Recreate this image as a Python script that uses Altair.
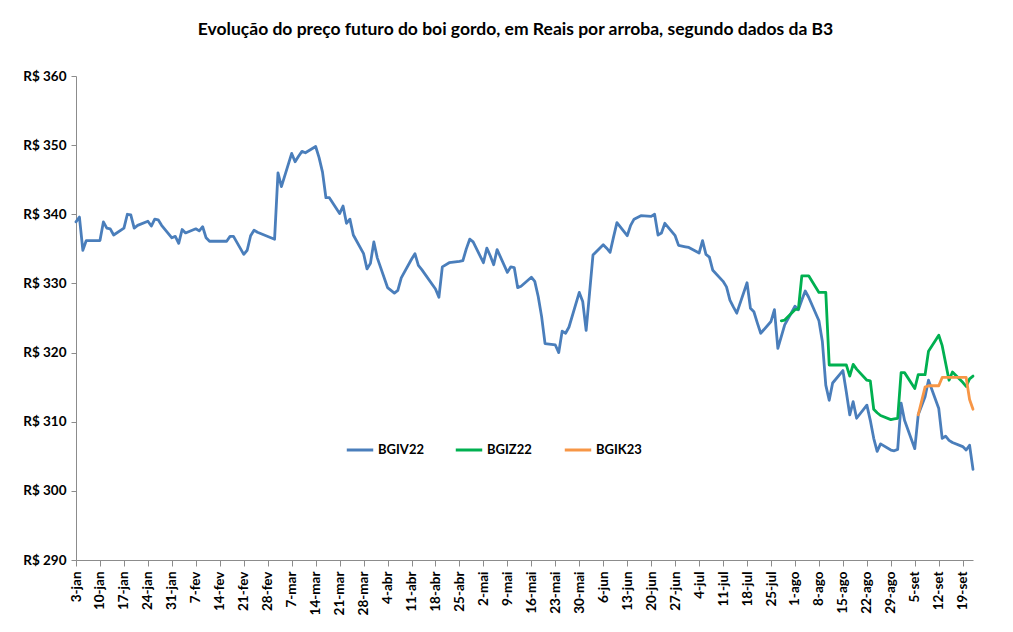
import altair as alt
import pandas as pd

TITLE = "Evolução do preço futuro do boi gordo, em Reais por arroba, segundo dados da B3"

series_names = ["BGIV22", "BGIZ22", "BGIK23"]
series_colors = ["#4A7EBB", "#00B050", "#F79646"]

bgiv22_dates = [
    "2022-01-03", "2022-01-04", "2022-01-05", "2022-01-06", "2022-01-07", "2022-01-10", "2022-01-11",
    "2022-01-12", "2022-01-13", "2022-01-14", "2022-01-17", "2022-01-18", "2022-01-19", "2022-01-20",
    "2022-01-21", "2022-01-24", "2022-01-25", "2022-01-26", "2022-01-27", "2022-01-28", "2022-01-31",
    "2022-02-01", "2022-02-02", "2022-02-03", "2022-02-04", "2022-02-07", "2022-02-08", "2022-02-09",
    "2022-02-10", "2022-02-11", "2022-02-14", "2022-02-15", "2022-02-16", "2022-02-17", "2022-02-18",
    "2022-02-21", "2022-02-22", "2022-02-23", "2022-02-24", "2022-02-25", "2022-03-02", "2022-03-03",
    "2022-03-04", "2022-03-07", "2022-03-08", "2022-03-09", "2022-03-10", "2022-03-11", "2022-03-14",
    "2022-03-15", "2022-03-16", "2022-03-17", "2022-03-18", "2022-03-21", "2022-03-22", "2022-03-23",
    "2022-03-24", "2022-03-25", "2022-03-28", "2022-03-29", "2022-03-30", "2022-03-31", "2022-04-01",
    "2022-04-04", "2022-04-05", "2022-04-06", "2022-04-07", "2022-04-08", "2022-04-11", "2022-04-12",
    "2022-04-13", "2022-04-14", "2022-04-18", "2022-04-19", "2022-04-20", "2022-04-22", "2022-04-25",
    "2022-04-26", "2022-04-27", "2022-04-28", "2022-04-29", "2022-05-02", "2022-05-03", "2022-05-04",
    "2022-05-05", "2022-05-06", "2022-05-09", "2022-05-10", "2022-05-11", "2022-05-12", "2022-05-13",
    "2022-05-16", "2022-05-17", "2022-05-18", "2022-05-19", "2022-05-20", "2022-05-23", "2022-05-24",
    "2022-05-25", "2022-05-26", "2022-05-27", "2022-05-30", "2022-05-31", "2022-06-01", "2022-06-02",
    "2022-06-03", "2022-06-06", "2022-06-07", "2022-06-08", "2022-06-09", "2022-06-10", "2022-06-13",
    "2022-06-14", "2022-06-15", "2022-06-17", "2022-06-20", "2022-06-21", "2022-06-22", "2022-06-23",
    "2022-06-24", "2022-06-27", "2022-06-28", "2022-06-29", "2022-06-30", "2022-07-01", "2022-07-04",
    "2022-07-05", "2022-07-06", "2022-07-07", "2022-07-08", "2022-07-11", "2022-07-12", "2022-07-13",
    "2022-07-14", "2022-07-15", "2022-07-18", "2022-07-19", "2022-07-20", "2022-07-21", "2022-07-22",
    "2022-07-25", "2022-07-26", "2022-07-27", "2022-07-28", "2022-07-29", "2022-08-01", "2022-08-02",
    "2022-08-03", "2022-08-04", "2022-08-05", "2022-08-08", "2022-08-09", "2022-08-10", "2022-08-11",
    "2022-08-12", "2022-08-15", "2022-08-16", "2022-08-17", "2022-08-18", "2022-08-19", "2022-08-22",
    "2022-08-23", "2022-08-24", "2022-08-25", "2022-08-26", "2022-08-29", "2022-08-30", "2022-08-31",
    "2022-09-01", "2022-09-02", "2022-09-05", "2022-09-06", "2022-09-08", "2022-09-09", "2022-09-12",
    "2022-09-13", "2022-09-14", "2022-09-15", "2022-09-16", "2022-09-19", "2022-09-20", "2022-09-21",
    "2022-09-22",
]
bgiv22_values = [
    338.9, 339.6, 334.8, 336.2, 336.2, 336.2, 338.9,
    338.0, 337.9, 337.0, 338.0, 340.0, 339.9, 338.0,
    338.4, 339.0, 338.3, 339.3, 339.2, 338.4, 336.6,
    336.8, 335.8, 337.8, 337.3, 337.9, 337.6, 338.2,
    336.6, 336.1, 336.1, 336.1, 336.1, 336.8, 336.8,
    334.2, 334.8, 336.9, 337.7, 337.4, 336.4, 346.0,
    344.0, 348.8, 347.6, 348.4, 349.1, 348.9, 349.8,
    348.2, 346.1, 342.4, 342.4, 340.1, 341.2, 338.7,
    339.3, 337.0, 334.3, 332.1, 332.9, 336.0, 333.7,
    329.4, 329.0, 328.6, 329.0, 330.8, 333.5, 334.3,
    332.6, 332.0, 329.2, 328.0, 332.4, 333.0, 333.2,
    333.3, 335.0, 336.4, 336.0, 333.0, 335.1, 334.0,
    332.7, 334.9, 331.6, 332.4, 332.3, 329.4, 329.6,
    330.9, 330.3, 328.1, 325.2, 321.3, 321.1, 320.0,
    323.1, 322.8, 323.7, 328.7, 327.4, 323.2, 328.6,
    334.1, 335.6, 335.1, 334.5, 336.7, 338.8, 336.9,
    338.4, 339.3, 339.8, 339.7, 340.0, 337.0, 337.3,
    338.7, 336.9, 335.5, 335.4, 335.3, 335.2, 334.4,
    336.2, 334.2, 333.8, 331.9, 330.3, 329.5, 327.6,
    326.6, 325.7, 330.1, 326.4, 325.9, 324.3, 322.8,
    324.5, 326.2, 320.6, 322.3, 324.0, 326.7, 326.2,
    327.6, 328.9, 328.0, 324.6, 321.6, 315.3, 313.1,
    315.6, 317.4, 314.3, 311.0, 312.9, 310.5, 312.4,
    310.2, 307.6, 305.7, 306.8, 305.9, 305.8, 306.0,
    312.7, 310.2, 306.1, 311.0, 313.6, 316.0, 311.9,
    307.6, 307.9, 307.3, 307.0, 306.4, 305.9, 306.6,
    303.1,
]

bgiz22_dates = [
    "2022-07-28", "2022-07-29", "2022-08-01", "2022-08-02", "2022-08-03", "2022-08-04", "2022-08-05",
    "2022-08-08", "2022-08-09", "2022-08-10", "2022-08-11", "2022-08-12", "2022-08-15", "2022-08-16",
    "2022-08-17", "2022-08-18", "2022-08-19", "2022-08-22", "2022-08-23", "2022-08-24", "2022-08-25",
    "2022-08-26", "2022-08-29", "2022-08-30", "2022-08-31", "2022-09-01", "2022-09-02", "2022-09-05",
    "2022-09-06", "2022-09-08", "2022-09-09", "2022-09-12", "2022-09-13", "2022-09-14", "2022-09-15",
    "2022-09-16", "2022-09-19", "2022-09-20", "2022-09-21", "2022-09-22",
]
bgiz22_values = [
    324.6, 324.7, 326.2, 326.3, 331.1, 331.1, 331.1,
    328.7, 328.7, 328.7, 318.2, 318.2, 318.2, 318.2,
    316.6, 318.3, 317.6, 316.0, 315.9, 311.8, 311.3,
    310.9, 310.3, 310.4, 310.5, 317.1, 317.1, 314.8,
    316.8, 316.8, 320.2, 322.5, 321.0, 318.5, 316.0,
    317.2, 315.7, 315.1, 316.2, 316.6,
]

bgik23_dates = [
    "2022-09-06", "2022-09-08", "2022-09-09", "2022-09-12", "2022-09-13", "2022-09-14", "2022-09-15",
    "2022-09-16", "2022-09-19", "2022-09-20", "2022-09-21", "2022-09-22",
]
bgik23_values = [
    311.0, 315.0, 315.2, 315.2, 316.4, 316.4, 316.4,
    316.4, 316.4, 316.4, 313.2, 311.8,
]

tick_dates = [
    "2022-01-03", "2022-01-10", "2022-01-17", "2022-01-24", "2022-01-31", "2022-02-07", "2022-02-14",
    "2022-02-21", "2022-02-28", "2022-03-07", "2022-03-14", "2022-03-21", "2022-03-28", "2022-04-04",
    "2022-04-11", "2022-04-18", "2022-04-25", "2022-05-02", "2022-05-09", "2022-05-16", "2022-05-23",
    "2022-05-30", "2022-06-06", "2022-06-13", "2022-06-20", "2022-06-27", "2022-07-04", "2022-07-11",
    "2022-07-18", "2022-07-25", "2022-08-01", "2022-08-08", "2022-08-15", "2022-08-22", "2022-08-29",
    "2022-09-05", "2022-09-12", "2022-09-19",
]
month_names = ["jan", "fev", "mar", "abr", "mai", "jun", "jul", "ago", "set", "out", "nov", "dez"]
y_ticks = [290, 300, 310, 320, 330, 340, 350, 360]
x_start = "2022-01-03"
x_end = "2022-09-22"


def dt(s):
    y, m, d = (int(p) for p in s.split("-"))
    return alt.DateTime(year=y, month=m, date=d, utc=True)


frames = []
for name, dates, vals in [
    (series_names[0], bgiv22_dates, bgiv22_values),
    (series_names[1], bgiz22_dates, bgiz22_values),
    (series_names[2], bgik23_dates, bgik23_values),
]:
    frames.append(pd.DataFrame({"date": dates, "value": vals, "serie": name}))
df = pd.concat(frames, ignore_index=True)

months_js = "[" + ",".join("'" + m + "'" for m in month_names) + "]"
FONT = "Lato"
AXIS_STYLE = dict(
    grid=False,
    domainColor="#8C8C8C",
    tickColor="#8C8C8C",
    labelFont=FONT,
    labelFontSize=13.5,
    labelFontWeight="bold",
    labelColor="#000000",
)

chart = (
    alt.Chart(df)
    .mark_line(strokeWidth=2.8, strokeJoin="round", strokeCap="round")
    .encode(
        x=alt.X(
            "date:T",
            scale=alt.Scale(type="utc", domain=[dt(x_start), dt(x_end)]),
            axis=alt.Axis(
                title=None,
                values=[dt(s) for s in tick_dates],
                labelExpr="utcdate(datum.value) + '-' + " + months_js + "[utcmonth(datum.value)]",
                labelAngle=270,
                labelAlign="right",
                labelBaseline="middle",
                labelPadding=5,
                tickSize=6,
                labelOverlap=False,
                labelFlush=False,
                **AXIS_STYLE,
            ),
        ),
        y=alt.Y(
            "value:Q",
            scale=alt.Scale(domain=[290, 360], nice=False, zero=False),
            axis=alt.Axis(
                title=None,
                values=y_ticks,
                labelExpr="'R$ ' + datum.value",
                tickSize=5,
                labelPadding=5,
                **AXIS_STYLE,
            ),
        ),
        color=alt.Color(
            "serie:N",
            scale=alt.Scale(domain=series_names, range=series_colors),
            legend=alt.Legend(
                title=None,
                orient="none",
                direction="horizontal",
                legendX=269,
                legendY=359,
                symbolType="stroke",
                symbolSize=700,
                symbolStrokeWidth=3,
                labelFontSize=13,
                labelFont=FONT,
                labelFontWeight="bold",
                labelColor="#000000",
                columnPadding=25,
                labelOffset=3,
                gridAlign="all",
            ),
        ),
    )
    .properties(
        width=897,
        height=484,
        title=alt.TitleParams(
            TITLE,
            font=FONT,
            fontSize=17.5,
            fontWeight="bold",
            color="#000000",
            anchor="middle",
            frame="group",
            offset=31,
            dx=-9,
        ),
        autosize=alt.AutoSizeParams(type="none"),
        padding={"left": 68, "top": 68, "right": 24, "bottom": 56},
        background="white",
    )
    .configure_view(stroke=None)
)

chart.save("out.html", embed_options={"renderer": "svg", "actions": False})
